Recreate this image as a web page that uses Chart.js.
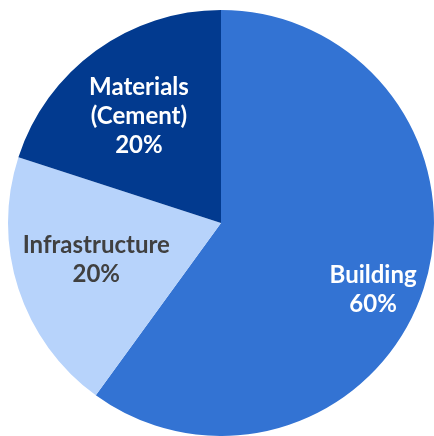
<!DOCTYPE html>
<html><head><meta charset="utf-8">
<script src="https://cdn.jsdelivr.net/npm/chart.js@4/dist/chart.umd.min.js"></script>
<style>html,body{margin:0;padding:0;background:#fff;}#wrap{width:434px;height:436px;}</style>
</head><body><div id="wrap"><canvas id="c"></canvas></div>
<script>
const categories = ["Building", "Infrastructure", "Materials\n(Cement)"];
const shares = [60, 20, 20];
const sliceColors = ["#3373d3", "#b7d3fb", "#023a8f"];
const labelColors = ["#ffffff", "#404040", "#ffffff"];
// label placement: fraction of radius, angle shift (radians) from slice middle
const labelRadius = [0.78, 0.61, 0.633];
const labelShift = [0.10, 0.03, -0.026];

const labelPlugin = {
  id: 'sliceLabels',
  afterDatasetsDraw(chart) {
    const ctx = chart.ctx;
    const meta = chart.getDatasetMeta(0);
    meta.data.forEach((arc, i) => {
      const p = arc.getProps(['x','y','startAngle','endAngle','outerRadius']);
      const mid = (p.startAngle + p.endAngle) / 2 + labelShift[i];
      const r = p.outerRadius * labelRadius[i];
      const cx = p.x + Math.cos(mid) * r;
      const cy = p.y + Math.sin(mid) * r;
      const lines = categories[i].split("\n").concat([shares[i] + "%"]);
      const lh = 29;
      ctx.save();
      ctx.font = "bold 24px Lato";
      ctx.fillStyle = labelColors[i];
      ctx.textAlign = "center";
      ctx.textBaseline = "middle";
      lines.forEach((t, k) => {
        ctx.fillText(t, cx, cy + (k - (lines.length - 1) / 2) * lh);
      });
      ctx.restore();
    });
  }
};

new Chart(document.getElementById('c'), {
  type: 'pie',
  data: {
    labels: categories,
    datasets: [{ data: shares, backgroundColor: sliceColors, borderWidth: 0 }]
  },
  options: {
    responsive: true,
    maintainAspectRatio: false,
    animation: false,
    layout: { padding: { left: 8, top: 10, right: 0, bottom: 0 } },
    plugins: { legend: { display: false }, tooltip: { enabled: false } }
  },
  plugins: [labelPlugin]
});
</script></body></html>
